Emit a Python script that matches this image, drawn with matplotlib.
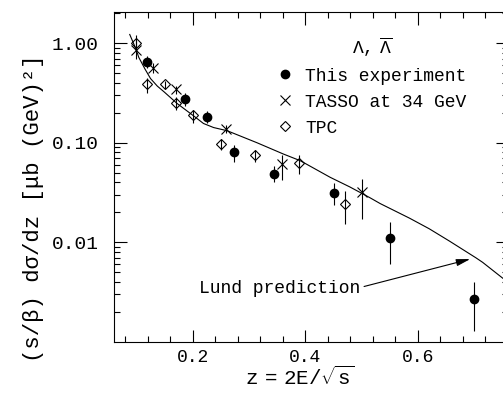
import matplotlib
matplotlib.use('Agg')
import matplotlib.pyplot as plt
from matplotlib.ticker import FixedLocator, MultipleLocator, LogLocator, NullFormatter, FuncFormatter
import numpy as np

# (s/beta) dsigma/dz for Lambda + anti-Lambda, three data sets and the Lund curve
exp_z = [0.119, 0.186, 0.225, 0.274, 0.345, 0.451, 0.550, 0.700]
exp_y = [0.64, 0.274, 0.18, 0.080, 0.049, 0.031, 0.011, 0.0027]
exp_lo = [0.557, 0.233, 0.156, 0.064, 0.040, 0.0235, 0.0061, 0.0013]
exp_hi = [0.74, 0.312, 0.209, 0.094, 0.0585, 0.039, 0.016, 0.004]

tasso_z = [0.099, 0.129, 0.171, 0.259, 0.359, 0.500]
tasso_y = [0.85, 0.565, 0.343, 0.138, 0.061, 0.032]
tasso_lo = [0.70, 0.50, 0.31, 0.126, 0.042, 0.0173]
tasso_hi = [1.20, 0.625, 0.37, 0.15, 0.075, 0.0435]

tpc_z = [0.099, 0.119, 0.150, 0.170, 0.201, 0.251, 0.310, 0.389, 0.470]
tpc_y = [1.00, 0.385, 0.385, 0.249, 0.188, 0.097, 0.076, 0.062, 0.0245]
tpc_lo = [0.90, 0.312, 0.35, 0.212, 0.156, 0.084, 0.064, 0.048, 0.0154]
tpc_hi = [1.12, 0.442, 0.42, 0.285, 0.212, 0.110, 0.0855, 0.075, 0.033]

lund_z = [0.088, 0.0987, 0.104, 0.115, 0.125, 0.137, 0.149, 0.172, 0.202, 0.219,
          0.237, 0.261, 0.314, 0.361, 0.391, 0.444, 0.479, 0.515, 0.533, 0.585,
          0.620, 0.656, 0.703, 0.715, 0.75, 0.76]
lund_y = [1.22, 0.88, 0.72, 0.55, 0.44, 0.37, 0.324, 0.248, 0.185, 0.156,
          0.142, 0.132, 0.100, 0.077, 0.066, 0.045, 0.036, 0.028, 0.0245, 0.0175,
          0.0137, 0.0103, 0.0070, 0.0063, 0.0044, 0.0040]

labels = ['This experiment', 'TASSO at 34 GeV', 'TPC']

plt.rcParams['font.family'] = 'Liberation Mono'
plt.rcParams['mathtext.fontset'] = 'custom'
plt.rcParams['mathtext.rm'] = 'Liberation Mono'
plt.rcParams['mathtext.it'] = 'Liberation Mono:italic'
plt.rcParams['mathtext.bf'] = 'Liberation Mono:bold'

fig = plt.figure(figsize=(5.03, 3.98), dpi=100)
ax = fig.add_axes([0.2266, 0.1407, 0.7833, 0.8291])
ax.set_yscale('log')


def draw_set(z, y, lo, hi, **kw):
    z = np.array(z)
    y = np.array(y)
    yerr = [y - np.array(lo), np.array(hi) - y]
    ax.errorbar(z, y, yerr=yerr, fmt='none', ecolor='black', elinewidth=0.8, capsize=0)
    return ax.plot(z, y, linestyle='none', color='black', **kw)[0]


ax.plot(lund_z, lund_y, color='black', lw=0.8)
h_exp = draw_set(exp_z, exp_y, exp_lo, exp_hi, marker='o', ms=6)
h_tasso = draw_set(tasso_z, tasso_y, tasso_lo, tasso_hi, marker='x', ms=6.7, mew=0.8)
h_tpc = draw_set(tpc_z, tpc_y, tpc_lo, tpc_hi, marker='D', ms=4.6, mew=0.8,
                 mfc='none', mec='black')

ax.set_xlim(0.06, 0.76)
ax.set_ylim(0.001, 2.05)

ax.xaxis.set_major_locator(MultipleLocator(0.2))
ax.xaxis.set_minor_locator(MultipleLocator(0.04))
ax.xaxis.set_major_formatter(FuncFormatter(lambda v, _: f'{v:.1f}'))
ax.yaxis.set_major_locator(FixedLocator([0.01, 0.1, 1.0]))
ax.yaxis.set_minor_locator(LogLocator(subs=np.arange(2, 10)))
ax.yaxis.set_major_formatter(FuncFormatter(lambda v, _: f'{v:.2f}'))
ax.yaxis.set_minor_formatter(NullFormatter())

for s in ax.spines.values():
    s.set_linewidth(0.8)
ax.tick_params(which='both', direction='in', top=True, right=True, width=0.8)
ax.tick_params(which='major', length=9)
ax.tick_params(which='minor', length=4)
ax.tick_params(axis='x', labelsize=13, pad=5)
ax.tick_params(axis='y', labelsize=14, pad=11)

ax.set_ylabel('(s/β) dσ/dz [μb (GeV)²]', fontsize=16)
ax.yaxis.set_label_coords(-0.178, 0.405)
ax.set_xlabel(r'$\mathrm{z\ =\ 2E/}\sqrt{\mathrm{s}}$', fontsize=15)
ax.xaxis.set_label_coords(0.472, -0.072)

ax.legend([h_exp, h_tasso, h_tpc], labels, title=r'$\Lambda,\ \overline{\Lambda}$',
          loc='upper left', bbox_to_anchor=(0.415, 0.93), frameon=False,
          fontsize=13, title_fontsize=13, handlelength=0.8, handletextpad=0.75,
          labelspacing=0.5, borderpad=0, borderaxespad=0)

ax.annotate('Lund prediction', xy=(0.693, 0.0068), xytext=(0.497, 0.00345),
            ha='right', va='center', fontsize=13,
            arrowprops=dict(arrowstyle='-|>,head_length=0.6,head_width=0.15',
                            color='black', lw=0.8, shrinkA=1, shrinkB=0,
                            relpos=(1, 0.55), mutation_scale=14))

fig.savefig('out.png', dpi=100)
